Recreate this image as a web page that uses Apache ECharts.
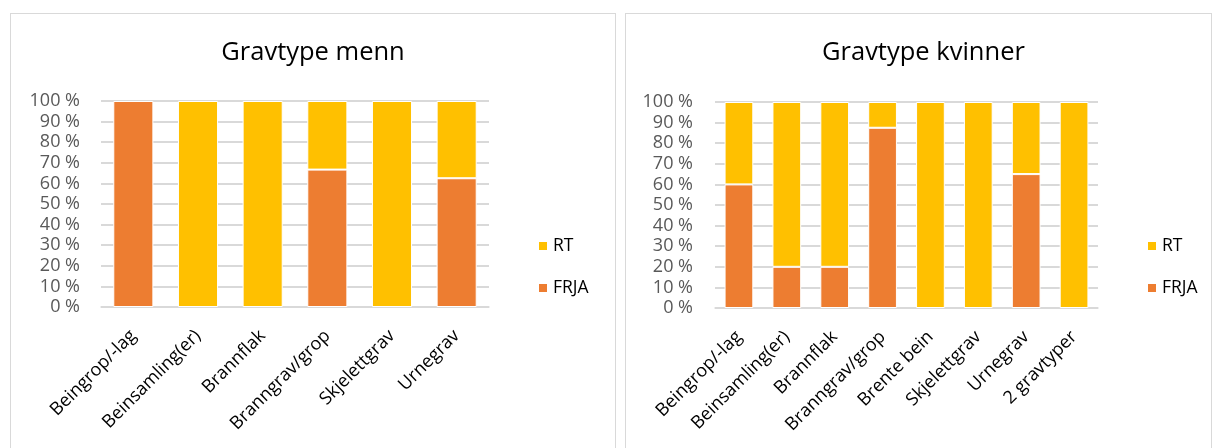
<!DOCTYPE html>
<html>
<head>
<meta charset="utf-8">
<script src="https://cdn.jsdelivr.net/npm/echarts@6/dist/echarts.min.js"></script>
<style>
  html, body { margin: 0; padding: 0; background: #fff; width: 1214px; height: 448px; overflow: hidden; }
  .panel { position: absolute; border: 1px solid #d9d9d9; background: #fff; box-sizing: border-box; }
  #p1 { left: 10px; top: 13px; width: 606px; height: 460px; }
  #p2 { left: 625px; top: 13px; width: 587px; height: 460px; }
  .chart { width: 100%; height: 100%; }
</style>
</head>
<body>
<div class="panel" id="p1"><div class="chart" id="c1"></div></div>
<div class="panel" id="p2"><div class="chart" id="c2"></div></div>
<script>
// ---- Data ----
const menTitle = 'Gravtype menn';
const menCategories = ['Beingrop/-lag', 'Beinsamling(er)', 'Brannflak', 'Branngrav/grop', 'Skjelettgrav', 'Urnegrav'];
const menFRJA = [100, 0, 0, 66.7, 0, 62.5];
const menRT = [0, 100, 100, 33.3, 100, 37.5];

const womenTitle = 'Gravtype kvinner';
const womenCategories = ['Beingrop/-lag', 'Beinsamling(er)', 'Brannflak', 'Branngrav/grop', 'Brente bein', 'Skjelettgrav', 'Urnegrav', '2 gravtyper'];
const womenFRJA = [60, 20, 20, 87.5, 0, 0, 65, 0];
const womenRT = [40, 80, 80, 12.5, 100, 100, 35, 100];

const seriesNames = ['FRJA', 'RT'];
const legendOrder = ['RT', 'FRJA'];
const yTicks = { min: 0, max: 100, interval: 10 };

// ---- Styling ----
const FONT = '"Open Sans", "Liberation Sans", sans-serif';
const ORANGE = '#ED7D31';
const YELLOW = '#FFC000';
const GRID = '#d9d9d9';

function nz(arr) { return arr.map(v => v === 0 ? null : v); }

function buildOption(title, cats, frja, rt, g) {
  return {
    animation: false,
    textStyle: { fontFamily: FONT },
    title: {
      text: title,
      left: g.titleLeft,
      top: g.titleTop,
      padding: 5,
      textStyle: { fontFamily: FONT, fontSize: 25.5, fontWeight: 'normal', color: '#000' }
    },
    legend: {
      orient: 'vertical',
      left: g.legendLeft,
      top: g.legendTop,
      itemWidth: 10,
      itemHeight: 10,
      itemGap: 24,
      icon: 'rect',
      data: legendOrder,
      textStyle: { fontFamily: FONT, fontSize: 17.5, color: '#000' }
    },
    grid: { left: g.left, top: g.top, width: g.width, height: g.height, containLabel: false },
    xAxis: {
      type: 'category',
      data: cats,
      axisTick: { show: false },
      axisLine: { lineStyle: { color: GRID, width: 1.5 } },
      axisLabel: { rotate: 45, margin: 26, interval: 0, fontFamily: FONT, fontSize: 18, color: '#000' }
    },
    yAxis: {
      type: 'value',
      min: yTicks.min, max: yTicks.max, interval: yTicks.interval,
      axisLine: { show: false },
      axisTick: { show: false },
      splitLine: { lineStyle: { color: GRID, width: 2 } },
      axisLabel: { margin: g.yMargin, fontFamily: FONT, fontSize: 18, color: '#595959', formatter: '{value} %' }
    },
    series: [
      { name: seriesNames[0], type: 'bar', stack: 'total', data: nz(frja), barWidth: g.barWidth,
        itemStyle: { color: ORANGE, borderColor: '#fff', borderWidth: 1 } },
      { name: seriesNames[1], type: 'bar', stack: 'total', data: nz(rt), barWidth: g.barWidth,
        itemStyle: { color: YELLOW, borderColor: '#fff', borderWidth: 1 } }
    ]
  };
}

const c1 = echarts.init(document.getElementById('c1'), null, { renderer: 'canvas' });
c1.setOption(buildOption(menTitle, menCategories, menFRJA, menRT, {
  titleTop: 21, titleLeft: 'center', left: 90, top: 87, width: 388, height: 206, yMargin: 21,
  legendLeft: 521, legendTop: 218, barWidth: '62%'
}));
const c2 = echarts.init(document.getElementById('c2'), null, { renderer: 'canvas' });
c2.setOption(buildOption(womenTitle, womenCategories, womenFRJA, womenRT, {
  titleTop: 21, titleLeft: 191, left: 89, top: 88, width: 383, height: 206, yMargin: 22,
  legendLeft: 515, legendTop: 218, barWidth: '60%'
}));
</script>
</body>
</html>
